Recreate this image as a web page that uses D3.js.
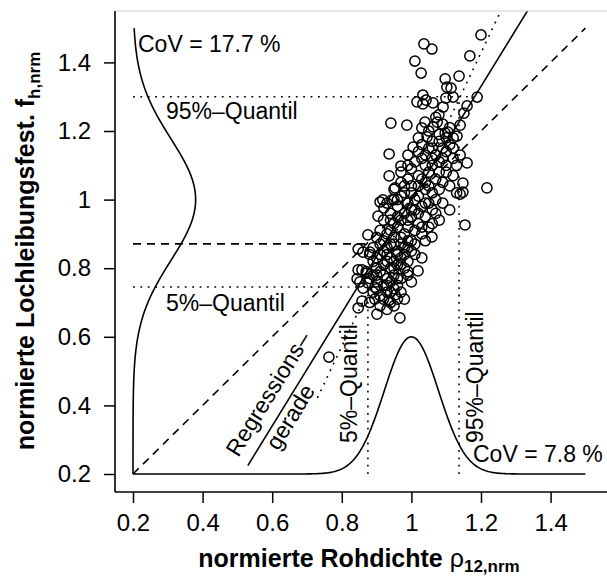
<!DOCTYPE html>
<html>
<head>
<meta charset="utf-8">
<script src="https://cdnjs.cloudflare.com/ajax/libs/d3/7.8.5/d3.min.js"></script>
<style>
  body { margin: 0; background: #fff; }
  text { font-family: "Liberation Sans", Arial, Helvetica, sans-serif; fill: #000; }
</style>
</head>
<body>
<svg id="chart" width="607" height="578"></svg>
<script>
// tick labels
var xTicks = [0.2, 0.4, 0.6, 0.8, 1, 1.2, 1.4];
var yTicks = [0.2, 0.4, 0.6, 0.8, 1, 1.2, 1.4];

// normierte Rohdichte (x) and normierte Lochleibungsfestigkeit (y)
var rhoNrm = [
  1.200, 1.036, 1.059, 1.010, 1.028, 1.168, 1.137, 1.097, 1.102, 1.114,
  1.099, 1.120, 1.033, 1.016, 1.042, 1.033, 1.062, 1.189, 1.160, 1.091,
  1.151, 1.079, 1.074, 0.941, 0.987, 1.039, 1.030, 1.062, 1.140, 1.097,
  1.105, 1.045, 1.131, 0.936, 1.005, 0.970, 0.936, 1.160, 1.148, 1.140,
  1.148, 1.217, 1.154, 1.059, 0.875, 0.910, 0.944, 0.904, 0.953, 0.918,
  0.921, 0.858, 0.847, 0.895, 0.901, 0.967, 0.763, 1.019, 0.936, 0.875,
  0.872, 0.852, 0.847, 0.847, 0.861, 0.881, 0.858, 0.844, 0.861, 0.895,
  0.953,
  1.02, 1.06, 1.08, 1.11, 1.09, 1.05, 1.12,
  0.99, 1.03, 1.07, 1.10, 1.12, 1.04, 1.08, 1.13, 1.01,
  0.97, 1.00, 1.02, 1.05, 1.07, 1.10, 1.12, 1.09, 1.04, 0.99,
  0.95, 0.98, 1.00, 1.02, 1.04, 1.06, 1.08, 1.11, 1.13, 1.01, 1.05, 0.97,
  0.93, 0.96, 0.99, 1.01, 1.03, 1.06, 1.09, 1.11, 0.94, 0.98, 1.04, 1.00,
  0.92, 0.95, 0.97, 0.99, 1.02, 1.05, 1.08, 0.94, 0.98, 1.01, 1.03, 0.96,
  0.90, 0.92, 0.95, 0.97, 0.99, 1.01, 1.04, 0.93, 0.96, 0.98, 1.00, 0.91,
  0.88, 0.90, 0.93, 0.95, 0.97, 0.99, 1.01, 0.92, 0.94, 0.96, 0.98, 0.89, 1.03,
  0.87, 0.89, 0.91, 0.93, 0.95, 0.97, 0.99, 0.90, 0.92, 0.94, 0.96, 1.00, 0.88,
  0.89, 0.91, 0.93, 0.95, 0.97, 0.92, 0.94, 0.90, 0.98,
  0.91, 0.93, 0.95, 0.88,
  0.96, 0.98, 1.00, 1.02, 1.03, 1.05, 1.07, 1.06, 1.08, 1.09,
  1.10, 1.04, 1.06, 1.02, 0.99, 0.97, 0.95, 0.94, 0.96, 0.99,
  1.00, 1.02, 1.04, 1.07, 1.06, 1.03, 0.97, 0.95, 0.93, 0.91,
  0.92, 0.94, 0.96, 0.90, 0.92, 0.98, 1.00, 0.99, 0.94, 0.96,
  1.07, 1.09, 1.11, 1.05, 1.08, 1.12, 1.14, 1.10, 1.03, 1.06,
  0.93, 0.95, 0.97, 0.91, 0.89, 0.94, 0.99, 0.90, 0.93, 0.96
];
var fhNrm = [
  1.480, 1.454, 1.439, 1.404, 1.369, 1.419, 1.360, 1.352, 1.328, 1.325,
  1.296, 1.299, 1.305, 1.285, 1.290, 1.279, 1.282, 1.299, 1.273, 1.270,
  1.252, 1.247, 1.226, 1.223, 1.217, 1.226, 1.209, 1.212, 1.217, 1.194,
  1.197, 1.183, 1.185, 1.133, 1.153, 1.098, 1.069, 1.107, 1.048, 1.016,
  1.022, 1.034, 0.926, 0.891, 0.897, 0.993, 0.999, 0.952, 1.034, 0.999,
  0.976, 0.704, 0.684, 0.710, 0.666, 0.655, 0.541, 0.792, 0.707, 0.757,
  0.786, 0.760, 0.795, 0.856, 0.847, 0.847, 0.795, 0.769, 0.742, 0.745,
  0.722,
  1.18, 1.17, 1.19, 1.16, 1.15, 1.15, 1.18,
  1.13, 1.12, 1.13, 1.14, 1.12, 1.10, 1.11, 1.10, 1.11,
  1.08, 1.09, 1.07, 1.08, 1.06, 1.08, 1.07, 1.05, 1.05, 1.06,
  1.03, 1.04, 1.02, 1.04, 1.03, 1.02, 1.03, 1.04, 1.02, 1.00, 0.99, 1.01,
  0.99, 0.98, 0.99, 0.97, 0.98, 0.97, 0.99, 0.97, 0.96, 0.96, 0.95, 0.95,
  0.94, 0.93, 0.94, 0.92, 0.93, 0.92, 0.94, 0.91, 0.90, 0.91, 0.90, 0.95,
  0.89, 0.88, 0.89, 0.87, 0.88, 0.87, 0.88, 0.86, 0.85, 0.86, 0.85, 0.87,
  0.84, 0.83, 0.84, 0.82, 0.83, 0.82, 0.84, 0.81, 0.80, 0.81, 0.80, 0.82, 0.83,
  0.79, 0.78, 0.79, 0.77, 0.78, 0.77, 0.78, 0.76, 0.75, 0.76, 0.75, 0.76, 0.77,
  0.73, 0.72, 0.73, 0.74, 0.73, 0.71, 0.70, 0.74, 0.71,
  0.69, 0.68, 0.69, 0.70,
  1.00, 1.02, 1.04, 1.01, 1.06, 1.04, 1.00, 1.10, 1.08, 1.12,
  1.10, 1.13, 1.15, 1.14, 1.10, 1.05, 1.00, 0.94, 0.92, 0.94,
  0.97, 0.96, 0.99, 0.96, 0.93, 0.92, 0.89, 0.87, 0.90, 0.91,
  0.85, 0.83, 0.84, 0.80, 0.78, 0.84, 0.88, 0.79, 0.73, 0.71,
  1.24, 1.22, 1.21, 1.20, 1.17, 1.15, 1.13, 1.18, 1.16, 1.12,
  0.82, 0.80, 0.81, 0.84, 0.86, 0.87, 0.86, 0.78, 0.75, 0.77
];

// Kennwerte
var covRho = 7.8, covFh = 17.7;      // CoV in %
var peakRho = 0.40, peakFh = 0.18;   // drawn height of the density curves
var regIntercept = -0.65, regSlope = 1.65;     // Regressionsgerade
var dotIntercept = -1.14, dotSlope = 2.14;     // punktierte Gerade
var rhoQ05 = 0.875, rhoQ95 = 1.137;
var fhQ05 = 0.745, fhQ95 = 1.30;
var fhChar = 0.871;

var svg = d3.select("#chart");
var x = d3.scaleLinear().domain([0.2, 1.5]).range([133, 585.4]);
var y = d3.scaleLinear().domain([0.2, 1.5]).range([474, 28.1]);
var pLeft = 115, pRight = 603.5, pTop = 11, pBottom = 492;

svg.append("clipPath").attr("id", "plotclip")
  .append("rect").attr("x", pLeft).attr("y", pTop)
  .attr("width", pRight - pLeft).attr("height", pBottom - pTop);

var plot = svg.append("g").attr("clip-path", "url(#plotclip)");
var line = d3.line().x(function (d) { return x(d[0]); }).y(function (d) { return y(d[1]); });

function seg(pts, dash) {
  plot.append("path").attr("d", line(pts))
    .attr("fill", "none").attr("stroke", "#000").attr("stroke-width", 1.6)
    .attr("stroke-dasharray", dash || null);
}
var DASH = "8,6", DOT = "1.8,5.6";

// density curves (normal, mean 1)
var sdFh = covFh / 100, sdRho = covRho / 100;
var leftCurve = d3.range(0.2, 1.5001, 0.004).map(function (v) {
  return [0.2 + peakFh * Math.exp(-0.5 * Math.pow((v - 1) / sdFh, 2)), v];
});
var bottomCurve = d3.range(0.2, 1.5001, 0.004).map(function (v) {
  return [v, 0.2 + peakRho * Math.exp(-0.5 * Math.pow((v - 1) / sdRho, 2))];
});
seg(leftCurve);
seg(bottomCurve);

// 1:1 line and characteristic value
seg([[0.2, 0.2], [1.5, 1.5]], DASH);
seg([[0.2, fhChar], [fhChar, fhChar]], DASH);

// regression lines
function reg(v) { return regIntercept + regSlope * v; }
function dotReg(v) { return dotIntercept + dotSlope * v; }
seg([[0.53, reg(0.53)], [1.4, reg(1.4)]]);
seg([[0.73, dotReg(0.73)], [1.3, dotReg(1.3)]], DOT);

// quantile lines
seg([[0.2, fhQ95], [(fhQ95 - regIntercept) / regSlope, fhQ95]], DOT);
seg([[0.2, fhQ05], [(fhQ05 - regIntercept) / regSlope, fhQ05]], DOT);
seg([[rhoQ05, 0.2], [rhoQ05, dotReg(rhoQ05)]], DOT);
seg([[rhoQ95, 0.2], [rhoQ95, dotReg(rhoQ95)]], DOT);

// points
plot.selectAll("circle.pt")
  .data(rhoNrm.map(function (d, i) { return [d, fhNrm[i]]; }))
  .enter().append("circle")
  .attr("class", "pt")
  .attr("cx", function (d) { return x(d[0]); })
  .attr("cy", function (d) { return y(d[1]); })
  .attr("r", 5.1)
  .attr("fill", "none").attr("stroke", "#000").attr("stroke-width", 1.5);

// frame
svg.append("line").attr("x1", pLeft).attr("x2", 607).attr("y1", pTop).attr("y2", pTop)
  .attr("stroke", "#ccc").attr("stroke-width", 1);
svg.append("line").attr("x1", pLeft).attr("x2", pLeft).attr("y1", pTop).attr("y2", pBottom)
  .attr("stroke", "#000").attr("stroke-width", 1.6);
svg.append("line").attr("x1", pLeft).attr("x2", 607).attr("y1", pBottom).attr("y2", pBottom)
  .attr("stroke", "#000").attr("stroke-width", 1.6);

// axes
var xAxis = d3.axisBottom(x).tickValues(xTicks).tickSize(11).tickPadding(6)
  .tickFormat(d3.format("~g"));
var gx = svg.append("g").attr("transform", "translate(0," + pBottom + ")").call(xAxis);
var yAxis = d3.axisLeft(y).tickValues(yTicks).tickSize(11).tickPadding(13)
  .tickFormat(d3.format("~g"));
var gy = svg.append("g").attr("transform", "translate(" + pLeft + ",0)").call(yAxis);
[gx, gy].forEach(function (g) {
  g.select(".domain").remove();
  g.selectAll(".tick line").attr("stroke", "#000").attr("stroke-width", 1.5);
  g.selectAll(".tick text").attr("font-size", 24).attr("font-family", "Liberation Sans, Arial, sans-serif").attr("fill", "#000");
});
gx.selectAll(".tick text").attr("dy", "0.9em");

// annotations
function label(txt, px, py, rot, anchor) {
  var t = svg.append("text").attr("font-size", 23)
    .attr("text-anchor", anchor || "start")
    .attr("transform", "translate(" + px + "," + py + ")" + (rot ? " rotate(" + rot + ")" : ""))
    .text(txt);
  return t;
}
label("CoV = " + covFh + " %", 138, 52);
label("95%\u2013Quantil", 166, 119);
label("5%\u2013Quantil", 166, 311);
label("CoV = " + covRho + " %", 473, 462);
label("5%\u2013Quantil", 357, 443, -90);
label("95%\u2013Quantil", 483, 443, -90);
var ang = -Math.atan((y(0) - y(1)) / (x(1) - x(0)) * regSlope) * 180 / Math.PI;
label("Regressions\u2013", 275, 398, ang, "middle");
label("gerade", 297, 421, ang, "middle");

// axis titles
var xt = svg.append("text").attr("x", 359).attr("y", 567)
  .attr("text-anchor", "middle").attr("font-size", 25).attr("font-weight", "bold");
xt.append("tspan").text("normierte Rohdichte ");
xt.append("tspan").attr("font-weight", "normal").text("\u03c1");
xt.append("tspan").attr("font-size", 17).attr("dy", 5).text("12,nrm");

var yt = svg.append("text").attr("transform", "translate(34,251) rotate(-90)")
  .attr("text-anchor", "middle").attr("font-size", 25).attr("font-weight", "bold");
yt.append("tspan").text("normierte Lochleibungsfest. f");
yt.append("tspan").attr("font-size", 17).attr("dy", 6).text("h,nrm");
</script>
</body>
</html>
